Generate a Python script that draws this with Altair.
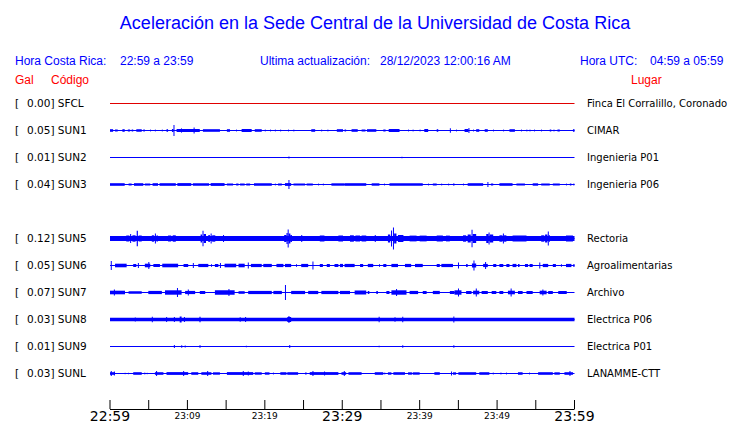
import altair as alt
import pandas as pd

# ---------------- data ----------------
title_text = "Aceleración en la Sede Central de la Universidad de Costa Rica"
header_texts = ["Hora Costa Rica:", "22:59 a 23:59", "Ultima actualización:",
                "28/12/2023 12:00:16 AM", "Hora UTC:", "04:59 a 05:59"]
column_heads = ["Gal", "Código", "Lugar"]

stations = ["SFCL", "SUN1", "SUN2", "SUN3", "SUN5", "SUN6", "SUN7", "SUN8", "SUN9", "SUNL"]
rows = [0, 1, 2, 3, 5, 6, 7, 8, 9, 10]
gal = ["0.00", "0.05", "0.01", "0.04", "0.12", "0.05", "0.07", "0.03", "0.01", "0.03"]
places = ["Finca El Corralillo, Coronado", "CIMAR", "Ingenieria P01", "Ingenieria P06",
          "Rectoria", "Agroalimentarias", "Archivo", "Electrica P06", "Electrica P01",
          "LANAMME-CTT"]

tick_minutes = [0, 5, 10, 15, 20, 25, 30, 35, 40, 45, 50, 55, 60]
major_minutes = [0, 30, 60]
major_labels = ["22:59", "23:29", "23:59"]
minor_minutes = [10, 20, 40, 50]
minor_labels = ["23:09", "23:19", "23:39", "23:49"]

# bursts per trace: (start minute, end minute, half amplitude)
sfcl_bursts = []
sun1_bursts = [(0.0, 0.4, 1.3), (0.65, 1.0, 1.0), (1.6, 1.9, 1.3), (2.3, 2.6, 1.0), (2.8, 3.0, 1.0),
               (3.4, 4.1, 1.2), (4.3, 4.5, 1.0), (5.2, 5.3, 1.0), (5.8, 5.9, 1.0), (6.7, 6.8, 1.0),
               (7.3, 7.5, 1.3), (8.0, 8.2, 1.5), (8.2, 8.33, 5.5), (8.6, 11.6, 1.5), (9.2, 9.3, 2.2),
               (10.8, 10.93, 3.0), (12.0, 14.2, 1.3), (15.1, 15.5, 1.3), (16.3, 16.4, 1.0),
               (17.0, 18.3, 1.5), (18.7, 19.6, 1.3), (20.0, 20.1, 1.0), (20.7, 20.8, 1.0),
               (21.3, 21.4, 1.0), (22.0, 22.1, 1.0), (23.0, 23.1, 1.0), (23.7, 23.8, 1.0),
               (26.0, 26.5, 1.3), (27.3, 27.4, 1.0), (28.1, 28.2, 1.0), (29.3, 30.1, 1.3),
               (30.3, 30.5, 1.0), (31.2, 32.0, 1.3), (32.5, 33.0, 1.0), (33.2, 34.4, 1.3),
               (35.3, 35.6, 1.0), (36.0, 37.4, 1.5), (38.5, 38.6, 1.0), (39.1, 39.2, 1.0),
               (40.0, 40.1, 1.0), (40.6, 41.1, 1.5), (42.2, 42.4, 1.3), (43.9, 44.03, 2.2),
               (44.7, 44.8, 1.0), (45.8, 46.3, 1.5), (46.3, 46.43, 2.5), (46.9, 47.0, 1.0),
               (47.3, 47.7, 1.3), (48.4, 48.8, 1.3), (49.5, 49.6, 1.0), (50.8, 50.9, 1.0),
               (51.6, 52.3, 1.3), (53.1, 53.2, 1.0), (53.8, 53.9, 1.0), (54.2, 54.3, 1.0),
               (54.8, 54.9, 1.0), (55.7, 55.8, 1.0), (56.8, 57.0, 1.0), (57.3, 57.4, 1.0),
               (57.8, 58.1, 1.0), (59.8, 60.0, 1.3)]
sun2_bursts = [(23.05, 23.18, 1.0), (37.65, 37.78, 0.8)]
sun3_bursts = [(0.0, 1.9, 1.3), (2.4, 2.8, 1.0), (3.1, 4.3, 1.3), (4.5, 5.2, 1.0), (5.5, 6.2, 1.3),
               (6.4, 8.5, 1.3), (8.7, 10.5, 1.4), (10.7, 12.8, 1.3), (13.0, 14.8, 1.4),
               (15.1, 15.9, 1.0), (16.3, 16.6, 1.0), (16.8, 17.4, 1.0), (17.6, 18.1, 1.0),
               (18.6, 20.9, 1.3), (21.3, 21.4, 1.0), (21.7, 22.2, 1.0), (22.6, 23.4, 1.4),
               (23.05, 23.18, 4.5), (23.7, 25.2, 1.0), (25.4, 26.2, 1.0), (26.9, 27.0, 1.0),
               (27.5, 27.6, 1.0), (28.6, 30.3, 1.2), (30.3, 33.1, 1.3), (33.8, 34.8, 1.2),
               (35.4, 35.5, 1.0), (36.1, 40.4, 1.3), (41.1, 41.2, 1.0), (41.7, 42.2, 1.0),
               (42.8, 42.9, 1.0), (43.7, 43.8, 1.0), (44.3, 44.5, 1.0), (45.6, 45.7, 1.0),
               (46.2, 48.2, 1.3), (48.75, 48.88, 2.5), (49.2, 49.5, 1.0), (50.3, 52.0, 1.3),
               (52.5, 53.6, 1.0), (54.6, 55.3, 1.2), (55.7, 56.8, 1.0), (57.2, 58.1, 1.0),
               (58.9, 59.0, 1.0), (59.4, 59.6, 1.0), (59.8, 60.0, 0.8)]
sun5_bursts = [(0.0, 60.0, 2.4),
               (2.1, 2.5, 3.0), (2.6, 2.73, 4.5), (2.9, 3.3, 3.2), (3.45, 3.6, 7.8), (3.7, 4.1, 3.0),
               (5.4, 5.7, 3.2), (5.8, 5.93, 5.0), (6.0, 6.2, 3.0), (7.5, 7.9, 3.0), (8.1, 8.5, 3.2),
               (11.7, 11.9, 4.0), (11.95, 12.08, 7.8), (12.1, 12.4, 4.5),
               (12.7, 12.9, 3.5), (13.0, 13.13, 5.0), (13.2, 13.6, 3.2), (14.6, 14.73, 3.5),
               (22.5, 22.8, 3.5), (22.8, 22.95, 5.5), (22.95, 23.08, 9.0), (23.08, 23.3, 5.0),
               (23.3, 23.5, 3.5), (24.7, 24.83, 3.5), (27.1, 27.7, 3.0), (29.5, 30.1, 3.0),
               (31.0, 31.5, 3.2), (31.7, 32.3, 3.0), (32.5, 33.1, 3.0), (34.2, 34.33, 3.5),
               (35.9, 36.2, 4.0), (36.3, 36.43, 8.0), (36.55, 36.68, 11.0), (36.7, 37.0, 5.0),
               (37.2, 37.9, 3.5), (38.7, 39.6, 2.9), (40.0, 40.9, 2.9), (42.2, 43.0, 3.0),
               (43.4, 43.9, 2.9), (45.6, 46.0, 3.2), (46.2, 46.6, 4.0), (46.7, 46.83, 8.7),
               (46.85, 47.3, 4.5), (48.6, 48.9, 4.5), (48.9, 49.03, 6.0), (49.05, 49.5, 4.0),
               (50.3, 50.7, 3.2), (50.75, 50.88, 5.0), (50.9, 51.2, 3.2), (52.0, 53.8, 2.9),
               (55.7, 56.1, 3.2), (56.2, 56.5, 4.0), (56.55, 56.68, 7.0), (56.7, 56.8, 3.5),
               (58.9, 59.8, 3.0)]
sun6_bursts = [(0.1, 0.23, 4.5), (0.65, 2.15, 1.8), (3.0, 3.4, 1.5), (3.6, 3.73, 2.5), (4.5, 5.2, 1.8),
               (4.95, 5.08, 3.5), (5.6, 6.45, 1.5), (6.75, 8.8, 1.8), (9.5, 10.1, 1.5),
               (10.7, 10.83, 2.5), (11.4, 12.7, 1.6), (13.05, 13.15, 1.5), (13.55, 14.0, 1.5),
               (14.2, 14.33, 2.5), (14.8, 16.3, 1.8), (16.6, 17.4, 1.8), (17.8, 17.93, 3.0),
               (18.2, 19.6, 1.6), (19.8, 20.9, 1.6), (21.5, 22.4, 1.6), (22.6, 23.4, 1.6),
               (24.05, 24.15, 1.5), (24.7, 25.6, 1.6), (26.15, 26.28, 4.0), (27.1, 27.5, 1.5),
               (28.0, 28.4, 1.5), (29.0, 29.5, 1.5), (29.7, 30.1, 1.6), (30.3, 31.6, 1.6),
               (32.3, 32.7, 1.5), (33.3, 34.0, 1.6), (34.75, 34.85, 1.5), (35.3, 35.7, 1.5),
               (36.35, 37.2, 1.6), (38.1, 38.9, 1.6), (39.4, 40.4, 1.6), (42.2, 42.6, 1.5),
               (42.8, 44.3, 1.6), (44.95, 45.08, 3.0), (46.0, 46.2, 1.5), (46.75, 47.3, 2.0),
               (46.95, 47.08, 5.0), (48.2, 48.8, 1.6), (48.45, 48.58, 3.5), (49.5, 49.9, 1.5),
               (50.3, 50.8, 1.5), (51.2, 51.6, 1.5), (52.0, 52.5, 1.6), (52.7, 52.9, 1.5),
               (53.6, 54.0, 1.5), (54.2, 54.6, 1.5), (55.45, 55.58, 3.0), (55.9, 56.6, 1.6),
               (57.2, 57.6, 1.5), (58.25, 58.35, 1.5), (58.9, 59.6, 1.6), (59.85, 60.0, 1.5)]
sun7_bursts = [(0.0, 1.94, 1.8), (0.5, 0.63, 3.0), (2.4, 4.1, 1.3), (4.95, 6.7, 1.6), (7.1, 9.25, 2.2),
               (8.65, 8.78, 4.5), (9.7, 11.0, 1.6), (10.05, 10.18, 3.0), (11.6, 12.3, 1.5),
               (13.55, 16.1, 2.2), (15.3, 15.43, 3.5), (16.6, 17.4, 1.3), (17.85, 20.9, 1.6),
               (21.1, 22.2, 1.6), (22.6, 22.73, 7.5), (23.4, 25.2, 1.6), (25.6, 26.9, 1.6),
               (27.3, 29.5, 1.6), (29.7, 31.0, 1.6), (31.6, 33.1, 2.0), (33.3, 33.5, 1.5),
               (34.4, 34.6, 1.5), (35.7, 36.1, 1.5), (36.35, 38.3, 2.2), (36.95, 37.08, 3.5),
               (38.7, 39.8, 1.6), (40.4, 40.9, 1.5), (41.7, 42.6, 1.6), (43.9, 44.5, 1.5),
               (44.5, 45.4, 2.2), (44.95, 45.08, 4.0), (46.0, 46.7, 1.5), (46.9, 47.7, 1.8),
               (47.25, 47.38, 4.0), (48.0, 48.8, 1.5), (49.3, 49.9, 1.5), (50.3, 50.8, 1.5),
               (51.4, 52.3, 1.8), (51.75, 51.88, 4.0), (52.7, 53.3, 1.5), (53.8, 54.6, 1.5),
               (55.5, 56.4, 1.8), (55.85, 55.98, 3.0), (56.6, 57.2, 1.5), (57.9, 59.0, 1.5)]
sun8_bursts = [(0.0, 60.0, 1.7), (3.2, 3.33, 1.9), (5.4, 5.53, 2.7), (7.25, 7.38, 2.5), (8.25, 8.38, 2.5),
               (9.0, 9.25, 3.0), (9.55, 9.68, 2.5), (11.55, 11.7, 2.8), (16.75, 16.88, 2.3),
               (17.45, 17.58, 2.5), (22.9, 23.4, 2.5), (23.05, 23.18, 3.5), (34.7, 34.83, 2.7),
               (36.75, 36.88, 2.2), (37.75, 37.88, 2.7), (44.35, 44.48, 3.0)]
sun9_bursts = [(8.25, 8.38, 1.5), (9.2, 9.33, 1.3), (9.65, 9.78, 1.0), (11.55, 11.7, 1.2),
               (17.55, 17.68, 0.8), (23.15, 23.28, 1.5), (34.7, 34.83, 0.8), (37.75, 37.88, 1.3),
               (44.35, 44.48, 1.3)]
sunl_bursts = [(0.0, 0.65, 1.3), (0.1, 0.23, 2.5), (0.5, 0.63, 2.0), (1.9, 2.0, 0.8), (2.35, 2.45, 0.8),
               (3.0, 4.1, 1.3), (4.45, 4.55, 1.0), (4.75, 4.85, 0.8), (5.8, 6.9, 1.3), (5.95, 6.08, 2.5),
               (7.3, 10.1, 1.4), (9.45, 9.58, 2.5), (10.5, 11.4, 1.3), (11.8, 13.1, 1.3),
               (12.55, 12.68, 2.5), (13.3, 14.2, 1.2), (15.1, 18.5, 1.4), (17.15, 17.28, 2.5),
               (17.8, 17.93, 2.0), (18.7, 19.6, 1.2), (20.0, 20.6, 1.2), (21.05, 21.15, 1.0),
               (22.0, 22.8, 1.3), (22.9, 24.3, 1.3), (25.2, 25.4, 1.0), (25.8, 29.5, 1.4),
               (26.15, 26.28, 2.5), (27.65, 27.78, 2.0), (29.9, 30.5, 1.3), (30.2, 30.33, 2.5),
               (30.8, 32.5, 1.3), (34.2, 35.3, 1.3), (35.45, 35.55, 1.0), (35.9, 36.35, 1.2),
               (36.6, 38.1, 1.3), (38.5, 39.0, 1.2), (39.1, 40.0, 1.2), (41.9, 42.6, 1.3),
               (44.05, 44.18, 2.0), (44.3, 44.7, 1.2), (45.0, 47.3, 1.3), (47.7, 49.0, 1.3),
               (49.45, 49.55, 1.0), (50.45, 50.55, 1.0), (51.15, 51.25, 1.0), (52.7, 53.3, 1.2),
               (54.15, 54.25, 1.0), (55.3, 57.2, 1.3), (57.4, 58.1, 1.2), (58.7, 59.8, 1.3),
               (59.35, 59.48, 2.5)]

# ---------------- tables ----------------
burst_lists = [sfcl_bursts, sun1_bursts, sun2_bursts, sun3_bursts, sun5_bursts,
               sun6_bursts, sun7_bursts, sun8_bursts, sun9_bursts, sunl_bursts]
PX_PER_ROW = 27.0  # amplitude units (px) per row spacing

rec = []
for st, r, bl in zip(stations, rows, burst_lists):
    for (a, b, amp) in bl:
        rec.append({"station": st, "t0": a, "t1": b,
                    "y0": r - amp / PX_PER_ROW, "y1": r + amp / PX_PER_ROW})
bursts_df = pd.DataFrame(rec, columns=["station", "t0", "t1", "y0", "y1"])

base_df = pd.DataFrame({"station": stations, "row": rows,
                        "t0": [tick_minutes[0]] * len(rows), "t1": [tick_minutes[-1]] * len(rows),
                        "label": [f"{g}] {s}" for g, s in zip(gal, stations)],
                        "place": places})

BLUE = "#0000ff"
RED = "#ff0000"

X = alt.Scale(domain=[0, 60], range=[102, 566.5])
Y = alt.Scale(domain=[0, 10], range=[95.5, 365.5])

baselines = alt.Chart(base_df).mark_rule(strokeWidth=1).encode(
    x=alt.X("t0:Q", scale=X, axis=None), x2="t1:Q",
    y=alt.Y("row:Q", scale=Y, axis=None),
    color=alt.condition(alt.datum.station == "SFCL", alt.value("#e00000"), alt.value(BLUE)),
)

rects = alt.Chart(bursts_df).mark_rect(color=BLUE).encode(
    x=alt.X("t0:Q", scale=X, axis=None), x2="t1:Q",
    y=alt.Y("y0:Q", scale=Y, axis=None), y2="y1:Q",
)

left_bracket = alt.Chart(base_df).mark_text(
    align="left", baseline="middle", font="DejaVu Sans", fontSize=10.5, color="black"
).encode(x=alt.value(7), y=alt.Y("row:Q", scale=Y, axis=None), text=alt.value("["))

left_lab = alt.Chart(base_df).mark_text(
    align="left", baseline="middle", font="DejaVu Sans", fontSize=10.5, color="black"
).encode(x=alt.value(19), y=alt.Y("row:Q", scale=Y, axis=None), text="label:N")

right_lab = alt.Chart(base_df).mark_text(
    align="left", baseline="middle", font="DejaVu Sans", fontSize=10, color="black"
).encode(x=alt.value(579), y=alt.Y("row:Q", scale=Y, axis=None), text="place:N")


def text_item(s, x, y, size, color, font="Liberation Sans", align="left"):
    return alt.Chart(pd.DataFrame({"s": [s]})).mark_text(
        align=align, baseline="alphabetic", font=font, fontSize=size, color=color
    ).encode(x=alt.value(x), y=alt.value(y), text="s:N")


title = text_item(title_text, 367, 21, 18, BLUE, align="center")
hdr_x = [7, 112, 252, 372, 572, 642]
headers = [text_item(s, hx, 57, 12, BLUE) for s, hx in zip(header_texts, hdr_x)]
heads = [text_item(column_heads[0], 7, 76, 12, RED),
         text_item(column_heads[1], 43, 76, 12, RED),
         text_item(column_heads[2], 623, 76, 12, RED)]

tick_df = pd.DataFrame({"t": tick_minutes})
ticks = alt.Chart(tick_df).mark_rule(color="black", strokeWidth=1).encode(
    x=alt.X("t:Q", scale=X, axis=None), y=alt.value(392), y2=alt.value(401))
axis_line = alt.Chart(pd.DataFrame({"t0": [tick_minutes[0]], "t1": [tick_minutes[-1]]})).mark_rule(
    color="black", strokeWidth=1).encode(
    x=alt.X("t0:Q", scale=X, axis=None), x2="t1:Q", y=alt.value(401.5))

major_txt = alt.Chart(pd.DataFrame({"t": major_minutes, "s": major_labels})).mark_text(
    align="center", baseline="alphabetic", font="DejaVu Sans", fontSize=14, color="black"
).encode(x=alt.X("t:Q", scale=X, axis=None), y=alt.value(413), text="s:N")
minor_txt = alt.Chart(pd.DataFrame({"t": minor_minutes, "s": minor_labels})).mark_text(
    align="center", baseline="alphabetic", font="DejaVu Sans", fontSize=9, color="black"
).encode(x=alt.X("t:Q", scale=X, axis=None), y=alt.value(411), text="s:N")

chart = alt.layer(
    baselines, rects, left_bracket, left_lab, right_lab, title, *headers, *heads,
    ticks, axis_line, major_txt, minor_txt
).properties(
    width=724, height=415, autosize=alt.AutoSizeParams(type="none"), padding=0
).configure_view(stroke=None).resolve_scale(x="shared", y="shared")

chart.save("out.html", embed_options={"renderer": "svg", "actions": False})
